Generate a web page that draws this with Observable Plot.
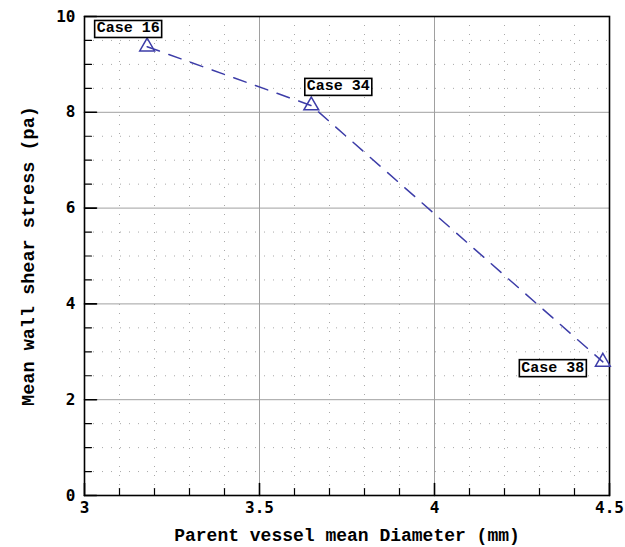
<!DOCTYPE html>
<html>
<head>
<meta charset="utf-8">
<script src="https://cdn.jsdelivr.net/npm/d3@7"></script>
<script src="https://cdn.jsdelivr.net/npm/@observablehq/plot@0.6"></script>
<style>
  html, body { margin: 0; padding: 0; background: #fff; }
</style>
</head>
<body>
<div id="chart"></div>
<script>
// ---- data ----
const caseNames = ["Case 16", "Case 34", "Case 38"];
const diameters = [3.179, 3.648, 4.481];      // mm
const shearStress = [9.37, 8.14, 2.79];       // pa

const xTicks = [3, 3.5, 4, 4.5];
const yTicks = [0, 2, 4, 6, 8, 10];
const xMinor = [3.1, 3.2, 3.3, 3.4, 3.6, 3.7, 3.8, 3.9, 4.1, 4.2, 4.3, 4.4];
const yMinor = [0.5, 1, 1.5, 2.5, 3, 3.5, 4.5, 5, 5.5, 6.5, 7, 7.5, 8.5, 9, 9.5];
const xGrid = [3.5, 4];
const yGrid = [2, 4, 6, 8];

const xTitle = "Parent vessel mean Diameter (mm)";
const yTitle = "Mean wall shear stress (pa)";

const cases = caseNames.map((name, i) => ({name, x: diameters[i], y: shearStress[i]}));

// ---- styles ----
const mono = "'Liberation Mono', 'Courier New', monospace";
const tickFont = "'DejaVu Sans Mono', monospace";
const blue = "#3d3da8";

const tickShape = {draw(context, l) { context.moveTo(0, 0); context.lineTo(0, -l); }};

const labelMark = (name, dx, dy) => Plot.text(cases.filter(d => d.name === name), {
  x: "x", y: "y", text: "name", dx, dy,
  fontFamily: mono, fontSize: 15, fontWeight: "bold", fill: "#000",
  textAnchor: "middle", lineAnchor: "middle", className: "case-label"
});

const chart = Plot.plot({
  width: 625,
  height: 547,
  marginLeft: 84,
  marginRight: 16,
  marginTop: 16,
  marginBottom: 52,
  style: {background: "#fff", fontFamily: tickFont, color: "#000"},
  x: {domain: [3, 4.5], label: null},
  y: {domain: [0, 10], label: null},
  marks: [
    // minor dotted grid
    Plot.ruleX(xMinor, {stroke: "#a8a8a8", strokeDasharray: "1,8", strokeWidth: 1}),
    Plot.ruleY(yMinor, {stroke: "#a8a8a8", strokeDasharray: "1,8", strokeWidth: 1}),
    // major grid
    Plot.ruleX(xGrid, {stroke: "#a0a0a0", strokeWidth: 1}),
    Plot.ruleY(yGrid, {stroke: "#a0a0a0", strokeWidth: 1}),
    // inward ticks, bottom
    Plot.vector(xMinor, {x: d => d, frameAnchor: "bottom", length: 7, rotate: 0, anchor: "start", shape: tickShape, stroke: "#000", strokeWidth: 1.2}),
    Plot.vector(xTicks, {x: d => d, frameAnchor: "bottom", length: 12, rotate: 0, anchor: "start", shape: tickShape, stroke: "#000", strokeWidth: 1.6}),
    // inward ticks, left
    Plot.vector(yMinor, {y: d => d, frameAnchor: "left", length: 7, rotate: 90, anchor: "start", shape: tickShape, stroke: "#000", strokeWidth: 1.2}),
    Plot.vector(yTicks, {y: d => d, frameAnchor: "left", length: 12, rotate: 90, anchor: "start", shape: tickShape, stroke: "#000", strokeWidth: 1.6}),
    Plot.frame({stroke: "#000", strokeWidth: 1.6}),
    // axes (labels only)
    Plot.axisX({ticks: xTicks, tickSize: 0, tickPadding: 6, fontSize: 16, fontWeight: "bold", fontFamily: tickFont, label: null, tickFormat: d => String(d)}),
    Plot.axisY({ticks: yTicks, tickSize: 0, tickPadding: 9, fontSize: 16, fontWeight: "bold", fontFamily: tickFont, label: null, tickFormat: d => String(d)}),
    // data
    Plot.line(cases, {x: "x", y: "y", stroke: blue, strokeWidth: 1.5, strokeDasharray: "13,10"}),
    Plot.dot(cases, {x: "x", y: "y", symbol: "triangle", r: 5.5, stroke: blue, strokeWidth: 1.5, fill: "none"}),
    labelMark("Case 16", -19, -19),
    labelMark("Case 34", 27, -20),
    labelMark("Case 38", -50, 5),
    // titles
    Plot.text([xTitle], {frameAnchor: "bottom", dy: 40, text: d => d, fontFamily: mono, fontSize: 18, fontWeight: "bold", fill: "#000", textAnchor: "middle", lineAnchor: "middle"}),
    Plot.text([yTitle], {frameAnchor: "left", dx: -56, text: d => d, rotate: -90, fontFamily: mono, fontSize: 18.5, fontWeight: "bold", fill: "#000", textAnchor: "middle", lineAnchor: "middle"})
  ]
});

document.getElementById("chart").appendChild(chart);

// boxes behind case labels
d3.select(chart).selectAll("g.case-label text").each(function() {
  const bb = this.getBBox();
  const tr = this.getAttribute("transform");
  const r = document.createElementNS("http://www.w3.org/2000/svg", "rect");
  r.setAttribute("x", bb.x - 2);
  r.setAttribute("y", bb.y);
  r.setAttribute("width", bb.width + 4);
  r.setAttribute("height", bb.height);
  r.setAttribute("fill", "#fff");
  r.setAttribute("stroke", "#000");
  r.setAttribute("stroke-width", "1.6");
  if (tr) r.setAttribute("transform", tr);
  this.parentNode.insertBefore(r, this);
});
</script>
</body>
</html>
